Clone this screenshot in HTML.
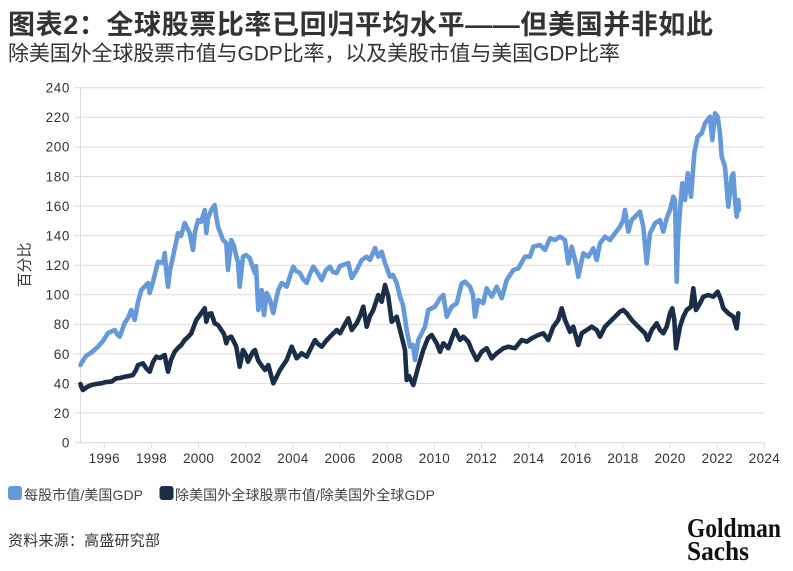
<!DOCTYPE html>
<html>
<head>
<meta charset="utf-8">
<style>
html,body{margin:0;padding:0;background:#fff;}
body{width:793px;height:571px;overflow:hidden;}
svg{display:block;}
text{font-family:"Liberation Sans","Noto Sans CJK SC",sans-serif;}
</style>
</head>
<body>
<svg width="793" height="571" viewBox="0 0 793 571" xmlns="http://www.w3.org/2000/svg">
<rect width="793" height="571" fill="#fff"/>
<!-- Title -->
<text x="8" y="34" font-size="27" font-weight="bold" fill="#333" textLength="705" lengthAdjust="spacing">图表2：全球股票比率已回归平均水平——但美国并非如此</text>
<text x="8" y="60.5" font-size="21" fill="#333" textLength="612" lengthAdjust="spacing">除美国外全球股票市值与GDP比率，以及美股市值与美国GDP比率</text>

<!-- gridlines -->
<g stroke="#dcdcdc" stroke-width="1">
<line x1="74" y1="413.1" x2="765" y2="413.1"/>
<line x1="74" y1="383.5" x2="765" y2="383.5"/>
<line x1="74" y1="354" x2="765" y2="354"/>
<line x1="74" y1="324.4" x2="765" y2="324.4"/>
<line x1="74" y1="294.8" x2="765" y2="294.8"/>
<line x1="74" y1="265.2" x2="765" y2="265.2"/>
<line x1="74" y1="235.6" x2="765" y2="235.6"/>
<line x1="74" y1="206" x2="765" y2="206"/>
<line x1="74" y1="176.5" x2="765" y2="176.5"/>
<line x1="74" y1="146.9" x2="765" y2="146.9"/>
<line x1="74" y1="117.3" x2="765" y2="117.3"/>
<line x1="74" y1="87.7" x2="765" y2="87.7"/>
<line x1="74" y1="442.7" x2="765" y2="442.7"/>
<line x1="80.5" y1="87.7" x2="80.5" y2="442.7"/>
</g>
<!-- x ticks -->
<g stroke="#dcdcdc" stroke-width="1">
<line x1="104.3" y1="443" x2="104.3" y2="448"/>
<line x1="151.5" y1="443" x2="151.5" y2="448"/>
<line x1="198.6" y1="443" x2="198.6" y2="448"/>
<line x1="245.8" y1="443" x2="245.8" y2="448"/>
<line x1="292.9" y1="443" x2="292.9" y2="448"/>
<line x1="340.1" y1="443" x2="340.1" y2="448"/>
<line x1="387.2" y1="443" x2="387.2" y2="448"/>
<line x1="434.4" y1="443" x2="434.4" y2="448"/>
<line x1="481.5" y1="443" x2="481.5" y2="448"/>
<line x1="528.7" y1="443" x2="528.7" y2="448"/>
<line x1="575.8" y1="443" x2="575.8" y2="448"/>
<line x1="623" y1="443" x2="623" y2="448"/>
<line x1="670.1" y1="443" x2="670.1" y2="448"/>
<line x1="717.3" y1="443" x2="717.3" y2="448"/>
<line x1="764.4" y1="443" x2="764.4" y2="448"/>
</g>

<!-- y labels -->
<g font-size="13.5" fill="#333" text-anchor="end" letter-spacing="0.6">
<text x="70" y="447.5">0</text>
<text x="70" y="417.9">20</text>
<text x="70" y="388.3">40</text>
<text x="70" y="358.8">60</text>
<text x="70" y="329.2">80</text>
<text x="70" y="299.6">100</text>
<text x="70" y="270">120</text>
<text x="70" y="240.4">140</text>
<text x="70" y="210.8">160</text>
<text x="70" y="181.3">180</text>
<text x="70" y="151.7">200</text>
<text x="70" y="122.1">220</text>
<text x="70" y="92.5">240</text>
</g>
<!-- x labels -->
<g font-size="13.5" fill="#333" text-anchor="middle" letter-spacing="0.3">
<text x="104.3" y="463">1996</text>
<text x="151.5" y="463">1998</text>
<text x="198.6" y="463">2000</text>
<text x="245.8" y="463">2002</text>
<text x="292.9" y="463">2004</text>
<text x="340.1" y="463">2006</text>
<text x="387.2" y="463">2008</text>
<text x="434.4" y="463">2010</text>
<text x="481.5" y="463">2012</text>
<text x="528.7" y="463">2014</text>
<text x="575.8" y="463">2016</text>
<text x="623" y="463">2018</text>
<text x="670.1" y="463">2020</text>
<text x="717.3" y="463">2022</text>
<text x="764.4" y="463">2024</text>
</g>
<!-- y axis title -->
<text x="0" y="0" font-size="15" fill="#333" text-anchor="middle" transform="translate(29.5,265) rotate(-90)">百分比</text>

<!-- series: light blue (US) -->
<polyline fill="none" stroke="#6699da" stroke-width="4.6" stroke-linejoin="round" stroke-linecap="round" points="
80.5,365 81.3,363.3 86,356 92,352 98,346.7 103,341 108,333 114.7,330 117,334 119.7,336.7 124.7,323 128,318 131.3,310 134.7,320 138,302 141.3,290 148,283 149.7,293 153,281.7 158,261.7 163,263 164.7,253 166,268 168,286.7 170,270 173,256.7 178,233 181,236 184.7,223 189.7,233 191,240 193,250 195,232 198,220 201,222 204.7,210 206.3,233 208,218 211.3,210 214.7,205 216,215 218,226.7 223,240 226.3,243 228,270 231.3,240 234,246 236.3,256.7 238,262 239.7,286.7 243,256.7 246,255 249.7,258 252,265 254.7,273 256,266 258.3,310 261.7,290 264,315 266.7,293 270,300 273.3,313 276,300 278.3,290 281.7,283 286.7,286.7 290,276 293.3,266.7 296,271 300,273 303,279 306.7,283 310,274 313.3,266.7 317,272 321.7,280 326,270 330,266.7 333,272 336.7,273 340,266 343.3,265 348.3,263 351.7,278 356.7,270 361.7,260 366.7,256.7 370,260 375,248 378.3,256.7 381.7,251.7 385,263 390,276.7 393,275 396.7,283 400,296.7 403,305 406.7,330 410,346.7 413,345 415,360 418.3,340 423.3,330 425,326.7 428.3,310 435,306.7 440,298.3 443.3,295 446.7,316.7 451.7,306.7 456.7,303.3 461.7,283.3 465,281.7 470,286.7 473,295 475,316.7 478.3,300 483.3,303.3 486.7,288.3 491.7,296.7 496.7,286.7 501.7,298.3 506.7,280 513.3,270 518.3,268.3 525,256.7 530,256.7 533.3,246.7 540,245 545,250 550,238.3 555,240 560,236.7 565,240 568.3,263.3 571.7,246.7 576.7,266.7 578.3,276.7 583.3,253.3 588.3,256.7 593.3,248.3 596.7,260 600,243.3 605,236.7 610,240 615,233.3 620,226.7 623.3,220 625,210 628.3,231.7 631.7,220 636.7,215 640,211.7 643.3,226.7 646.7,263.3 650,233.3 655,223.3 660,220 663.3,231.7 666.7,218.3 670,210 673.3,196.7 675,200 676.7,281.7 678,240 680,210 682.3,183.3 685,200 687.7,173.3 691,196.7 694.3,153.3 697.7,136.7 701.7,133.3 705,123.3 710,116.7 712.3,140 715,113.3 717.7,116.7 720,133.3 721.7,156.7 725,166.7 728.3,206.7 731.7,176.7 733.3,173.3 735,200 736.7,216.7 738.3,200 739,210"/>

<!-- series: dark navy (RoW) -->
<polyline fill="none" stroke="#1b2d47" stroke-width="4.6" stroke-linejoin="round" stroke-linecap="round" points="
80.5,384 81.3,386.7 83,390 87,387 91.3,385 96,384 101.3,383.3 106,382 111.3,381.7 116.3,378.3 120,378 124.7,376.7 129,376 133,375 136,370 138,365 143,363.3 146,368 149.7,371.7 153,362 156.3,356.7 160,358 164.7,355 166,362 168,371.7 171,360 174.7,351.7 178,348 181.3,345 184.7,340 188,337 191.3,333.3 194,326 196.3,320 200,315 204.7,308.3 206.3,321.7 208.5,314 211.3,313.3 214.7,323.3 218,325 221.3,330 224,334 226.3,343.3 228,338 231.3,336.7 234,342 236.3,346.7 239.7,366.7 243,350 246,355 248,361.7 253,351.7 255,350 258,360 260,363.3 265,370 268.3,365 271,375 273.3,383.3 276,378 280,370 284,364 286.7,360 291.7,346.7 294,352 296.7,358.3 301.7,353.3 306.7,356.7 311,348 315,340 318,344 321.7,346.7 326,341 330,336.7 336.7,330 340,333.3 344,326 348.3,318.3 351.7,330 356.7,323.3 360,316 363.3,306.7 366.7,326.7 370,316 373.3,310 378.3,295 381.7,301.7 385,285 388.3,296.7 391.7,321.7 396.7,316.7 400,330 405,350 406.7,380 409,376 411.7,381.7 413.3,385 418.3,366.7 423.3,350 428,338 431.7,335 436.7,343.3 440,351.7 443.3,343.3 448.3,348.3 455,330 460,340 463.3,336.7 468.3,341.7 471.7,350 476.7,360 481.7,351.7 486.7,348.3 491.7,358.3 496.7,353.3 503.3,348.3 508.3,346.7 515,348.3 521.7,340 526.7,341.7 531.7,338.3 538.3,335 543.3,333.3 548.3,340 553.3,326.7 558.3,320 561.7,308.3 565,320 570,331.7 573.3,326.7 578.3,345 581.7,333.3 586.7,330 591.7,326.7 596.7,330 600,336.7 605,326.7 611.7,320 620,311.7 623.3,310 626.7,313.3 631.7,320 638.3,326.7 645,333.3 647.7,340 651.7,330 656.7,323.3 660,330 663.3,333.3 666.7,326.7 670,313.3 672.3,308.3 674.3,320 676,348.3 680,326.7 683.3,316.7 686.7,310 691,306.7 693.3,288.3 696,310 700,303.3 703.3,296.7 708.3,295 713.3,296.7 717.7,291.7 721,300 723.3,308.3 728.3,313.3 733.3,316.7 736.7,328.3 738.3,313.3"/>

<!-- legend -->
<rect x="8" y="486" width="14" height="14" rx="3" fill="#6699da"/>
<text x="24" y="500" font-size="14" fill="#444" textLength="119" lengthAdjust="spacing">每股市值/美国GDP</text>
<rect x="159.5" y="486" width="14" height="14" rx="3" fill="#1b2d47"/>
<text x="175" y="500" font-size="14" fill="#444" textLength="260" lengthAdjust="spacing">除美国外全球股票市值/除美国外全球GDP</text>

<!-- source -->
<text x="8" y="545.5" font-size="15" fill="#333" textLength="152" lengthAdjust="spacing">资料来源：高盛研究部</text>

<!-- logo -->
<text x="687" y="537" style="font-family:'Liberation Serif',serif;font-weight:bold;font-size:27px;" fill="#111" textLength="94" lengthAdjust="spacingAndGlyphs">Goldman</text>
<text x="687" y="560" style="font-family:'Liberation Serif',serif;font-weight:bold;font-size:27px;" fill="#111" textLength="62" lengthAdjust="spacingAndGlyphs">Sachs</text>
</svg>
</body>
</html>
